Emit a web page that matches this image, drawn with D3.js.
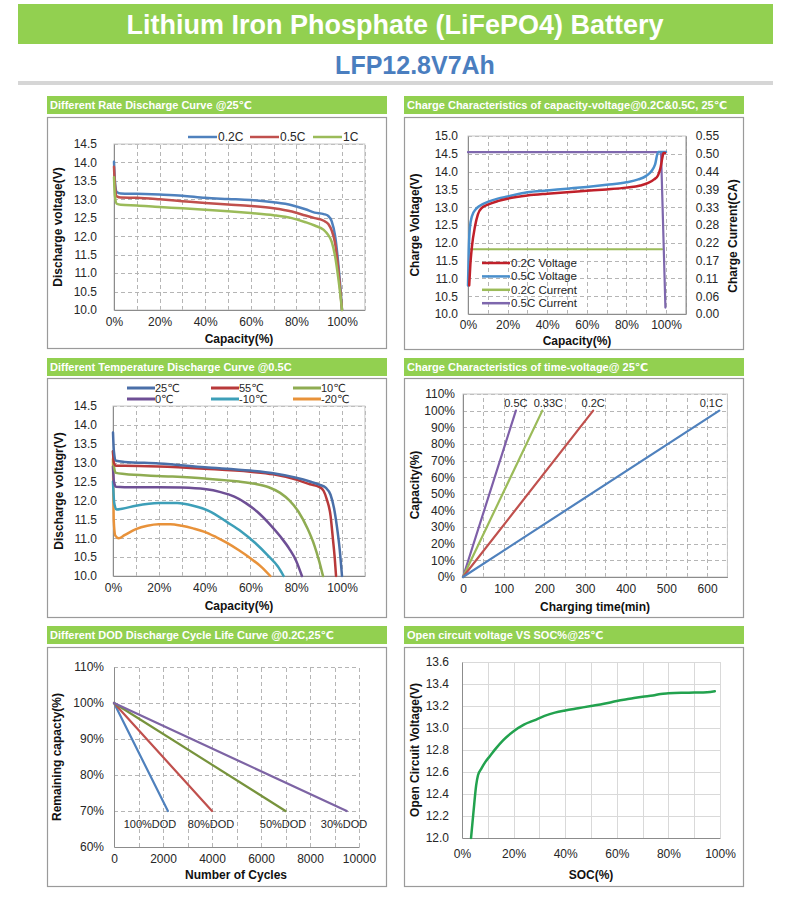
<!DOCTYPE html>
<html lang="en">
<head>
<meta charset="UTF-8" />
<title>LFP12.8V7Ah</title>
<script src="https://cdn.jsdelivr.net/npm/d3@7"></script>
<style>
  body { margin: 0; background: #fff; }
  text { font-family: "Liberation Sans", Arial, "DejaVu Sans", sans-serif; }
</style>
</head>
<body>
<div id="chart"></div>
<script>
// ---------- data ----------
// panel 1: rate discharge, [capacity %, volts]
const rate02C = [[0,14.02],[0.4,13.5],[1.2,13.2],[3,13.16],[10,13.15],[20,13.13],[30,13.1],[40,13.04],[50,13.01],[60,12.98],[70,12.92],[78,12.84],[84,12.73],[88,12.64],[92,12.6],[94,12.55],[95.5,12.4],[97,12.0],[98.3,11.3],[99.3,10.6],[100,10.0]];
const rate05C = [[0,13.88],[0.4,13.4],[1.2,13.08],[3,13.05],[10,13.04],[20,13.0],[30,12.95],[40,12.9],[50,12.86],[60,12.82],[70,12.76],[78,12.67],[84,12.56],[88,12.49],[92,12.42],[94,12.33],[95.5,12.15],[97,11.8],[98.3,11.15],[99.3,10.5],[100,10.0]];
const rate1C = [[0,13.6],[0.4,13.1],[1.2,12.88],[3,12.85],[10,12.83],[20,12.79],[30,12.76],[40,12.72],[50,12.68],[60,12.63],[70,12.57],[78,12.49],[84,12.38],[88,12.29],[92,12.17],[94,12.03],[95.5,11.85],[97,11.45],[98.3,10.9],[99.3,10.4],[100,10.0]];
const rateNames = ["0.2C", "0.5C", "1C"];

// panel 2: charge voltage [capacity %, volts] and current [capacity %, CA]
const chgV02C = [[0.6,10.8],[1.2,11.4],[2,11.9],[3.5,12.45],[5,12.8],[7,12.98],[10,13.07],[15,13.17],[20,13.24],[30,13.33],[40,13.38],[50,13.42],[60,13.46],[70,13.5],[80,13.55],[87,13.61],[91,13.68],[94,13.78],[96,13.9],[97.2,14.1],[98.2,14.4],[98.7,14.52],[99.5,14.52]];
const chgV05C = [[0,10.8],[0.4,11.8],[0.9,12.4],[2,12.75],[4,12.95],[6,13.04],[10,13.15],[15,13.24],[20,13.3],[30,13.42],[40,13.47],[50,13.52],[60,13.57],[70,13.63],[80,13.7],[86,13.78],[90,13.88],[92.5,14.0],[94.5,14.2],[96,14.55],[100,14.55]];
const chgI02C = [[1,0.2],[98,0.2]];
const chgI05C = [[0,0.5],[97.5,0.5],[99.7,0.02]];
const chgNames = ["0.2C Voltage", "0.5C Voltage", "0.2C Current", "0.5C Current"];
const currentTicks = [0, 0.055, 0.11, 0.165, 0.22, 0.275, 0.33, 0.385, 0.44, 0.495, 0.55];

// panel 3: temperature discharge [capacity %, volts]
const temp25 = [[0,13.8],[0.4,13.3],[1.3,13.05],[5,13.02],[20,12.98],[40,12.88],[60,12.79],[70,12.72],[80,12.6],[86,12.5],[90,12.42],[93,12.33],[95,12.15],[96.5,11.8],[97.8,11.3],[99,10.7],[100,10.0]];
const temp55 = [[0,13.3],[0.4,13.0],[1.3,12.92],[5,12.92],[20,12.9],[40,12.84],[60,12.76],[70,12.69],[80,12.55],[86,12.43],[90,12.36],[92,12.25],[93.5,12.0],[95,11.6],[96,11.0],[96.8,10.5],[97.4,10.0]];
const temp10 = [[0,13.3],[0.4,12.9],[1.3,12.73],[5,12.7],[20,12.65],[40,12.58],[55,12.5],[62,12.44],[68,12.35],[73,12.2],[77,12.0],[81,11.7],[85,11.25],[88,10.8],[90,10.4],[91.7,10.0]];
const temp0 = [[0,12.9],[0.4,12.5],[1.3,12.36],[5,12.35],[20,12.35],[30,12.34],[40,12.3],[47,12.22],[53,12.1],[58,11.93],[63,11.7],[68,11.4],[73,11.05],[77,10.72],[80,10.4],[82.5,10.0]];
const tempM10 = [[0,12.5],[0.5,11.95],[1.5,11.76],[4,11.78],[10,11.86],[20,11.93],[28,11.93],[35,11.86],[42,11.72],[50,11.42],[56,11.18],[62,10.88],[68,10.52],[72,10.25],[74.5,10.0]];
const tempM20 = [[0,13.1],[0.3,11.5],[1,11.07],[2.5,11.0],[5,11.08],[10,11.24],[15,11.33],[20,11.37],[25,11.37],[30,11.33],[35,11.26],[40,11.17],[45,11.03],[50,10.87],[55,10.68],[60,10.47],[65,10.23],[68.7,10.0]];
const tempNames = ["25\u2103", "55\u2103", "10\u2103", "0\u2103", "-10\u2103", "-20\u2103"];

// panel 4: charging time to 100% (min)
const timeRates = ["0.5C", "0.33C", "0.2C", "0.1C"];
const timeFull = [130, 195, 320, 630];

// panel 5: cycles until 70% remaining
const dodNames = ["100%DOD", "80%DOD", "50%DOD", "30%DOD"];
const dodCycles = [2200, 4000, 7000, 9500];

// panel 6: OCV vs SOC [soc fraction, volts]
const ocv = [[0.035,12.0],[0.045,12.25],[0.055,12.48],[0.062,12.57],[0.075,12.63],[0.09,12.69],[0.11,12.75],[0.13,12.81],[0.16,12.89],[0.2,12.97],[0.24,13.03],[0.28,13.07],[0.32,13.11],[0.36,13.14],[0.4,13.16],[0.45,13.18],[0.5,13.2],[0.55,13.22],[0.6,13.245],[0.65,13.265],[0.7,13.285],[0.74,13.295],[0.77,13.31],[0.8,13.315],[0.85,13.32],[0.9,13.322],[0.95,13.325],[0.98,13.335]];

// ---------- drawing ----------
const W = 791, H = 903;
const green = "#92d050";
const svg = d3.select("#chart").append("svg").attr("width", W).attr("height", H);

// header
svg.append("rect").attr("x", 18).attr("y", 4).attr("width", 755).attr("height", 40).attr("fill", green);
svg.append("text").attr("x", 395).attr("y", 34).attr("text-anchor", "middle")
  .style("font-size", "27px").style("font-weight", "bold").attr("fill", "#fff")
  .text("Lithium Iron Phosphate (LiFePO4) Battery");
svg.append("text").attr("x", 415).attr("y", 74).attr("text-anchor", "middle")
  .style("font-size", "25px").style("font-weight", "bold").attr("fill", "#4a7ebf")
  .text("LFP12.8V7Ah");
svg.append("rect").attr("x", 18).attr("y", 81).attr("width", 755).attr("height", 4).attr("fill", "#d6d6d6");

function frame(x, titleY, boxY, boxB, title) {
  svg.append("rect").attr("x", x).attr("y", titleY).attr("width", 340).attr("height", 18).attr("fill", green);
  svg.append("text").attr("x", x + 3).attr("y", titleY + 13).attr("fill", "#fff")
    .style("font-size", "11px").style("font-weight", "bold").text(title);
  svg.append("rect").attr("x", x + 0.5).attr("y", boxY + 0.5).attr("width", 339).attr("height", boxB - boxY)
    .attr("fill", "#fff").attr("stroke", "#9a9a9a").attr("stroke-width", 1.2);
}

function grid(x, y, xs, ys, dashed) {
  const g = svg.append("g").attr("stroke", dashed ? "#b5b5b5" : "#d9d9d9").attr("stroke-width", 1)
    .attr("stroke-dasharray", dashed ? "4,3" : null);
  const [y0, y1] = y.range(), [x0, x1] = x.range();
  g.selectAll(".v").data(xs).join("line")
    .attr("x1", d => Math.round(x(d)) + 0.5).attr("x2", d => Math.round(x(d)) + 0.5).attr("y1", y0).attr("y2", y1);
  g.selectAll(".h").data(ys).join("line")
    .attr("y1", d => Math.round(y(d)) + 0.5).attr("y2", d => Math.round(y(d)) + 0.5).attr("x1", x0).attr("x2", x1);
}

function styleAxis(g, size) {
  g.select(".domain").attr("stroke", "#8c8c8c");
  g.selectAll("text").style("font-size", (size || 12) + "px").attr("fill", "#262626")
    .style("font-family", '"Liberation Sans", Arial, sans-serif');
}

function yAxis(x0, y, vals, fmt, pad) {
  const g = svg.append("g").attr("transform", `translate(${x0},0)`)
    .call(d3.axisLeft(y).tickValues(vals).tickFormat(fmt).tickSize(0).tickPadding(pad));
  styleAxis(g);
  return g;
}

function xAxis(y0, x, vals, fmt, pad) {
  const g = svg.append("g").attr("transform", `translate(0,${y0})`)
    .call(d3.axisBottom(x).tickValues(vals).tickFormat(fmt).tickSize(0).tickPadding(pad));
  styleAxis(g);
  return g;
}

function axisTitle(x, y, txt, rot) {
  svg.append("text").attr("transform", `translate(${x},${y})` + (rot ? " rotate(-90)" : ""))
    .attr("text-anchor", "middle").style("font-size", "12px").style("font-weight", "bold")
    .attr("fill", "#111").text(txt);
}

function plotBorder(x, y) {
  const [x0, x1] = x.range(), [y0, y1] = y.range();
  svg.append("rect").attr("x", x0).attr("y", y1).attr("width", x1 - x0).attr("height", y0 - y1)
    .attr("fill", "none").attr("stroke", "#c8c8c8");
}

function series(x, y, data, color, width, curve) {
  const line = d3.line().x(d => x(d[0])).y(d => y(d[1])).curve(curve || d3.curveMonotoneX);
  svg.append("path").datum(data).attr("fill", "none").attr("stroke", color)
    .attr("stroke-width", width).attr("stroke-linejoin", "round").attr("stroke-linecap", "round")
    .attr("d", line);
}

const pct = d => d + "%";
const tens = d3.range(10, 111, 10);

// ---- panel 1 ----
frame(47, 96, 117, 348, "Different Rate Discharge Curve @25\u2103");
{
  const x = d3.scaleLinear().domain([0, 110]).range([114, 364.8]);
  const y = d3.scaleLinear().domain([10, 14.5]).range([310, 144]);
  const vt = d3.range(10, 14.51, 0.5);
  grid(x, y, tens, vt.slice(1), true);
  plotBorder(x, y);
  yAxis(114, y, vt, d3.format(".1f"), 17);
  xAxis(310, x, d3.range(0, 101, 20), pct, 7);
  const cols = ["#4f81bd", "#c0504d", "#9bbb59"];
  [rate02C, rate05C, rate1C].forEach((s, i) => series(x, y, s, cols[i], 2.5));
  axisTitle(62, 227, "Discharge voltage(V)", true);
  axisTitle(239, 343, "Capacity(%)");
  const lx = [188, 250, 313];
  rateNames.forEach((n, i) => {
    svg.append("line").attr("x1", lx[i]).attr("x2", lx[i] + 29).attr("y1", 137).attr("y2", 137)
      .attr("stroke", cols[i]).attr("stroke-width", 2.5);
    svg.append("text").attr("x", lx[i] + 30).attr("y", 141).style("font-size", "12px").attr("fill", "#262626").text(n);
  });
}

// ---- panel 2 ----
frame(404, 96, 117, 349, "Charge  Characteristics of capacity-voltage@0.2C&0.5C, 25\u2103");
{
  const x = d3.scaleLinear().domain([0, 110]).range([468, 685.8]);
  const y = d3.scaleLinear().domain([10, 15]).range([314, 136]);
  const yc = d3.scaleLinear().domain([0, 0.55]).range([314, 136]);
  const vt = d3.range(10, 15.01, 0.5);
  grid(x, y, tens, vt.slice(1), true);
  plotBorder(x, y);
  yAxis(468, y, vt, d3.format(".1f"), 10);
  const gr = svg.append("g").attr("transform", "translate(685.8,0)")
    .call(d3.axisRight(yc).tickValues(currentTicks).tickFormat(d => d3.format(".2f")(d + 1e-9)).tickSize(0).tickPadding(10));
  styleAxis(gr);
  xAxis(314, x, d3.range(0, 101, 20), pct, 6);
  const cols = ["#c0202a", "#4a8fcc", "#9bbb59", "#7e67ad"];
  series(x, yc, chgI02C, cols[2], 2.2, d3.curveLinear);
  series(x, yc, chgI05C, cols[3], 2.2, d3.curveLinear);
  series(x, y, chgV05C, cols[1], 2.5);
  series(x, y, chgV02C, cols[0], 2.5);
  axisTitle(419, 225, "Charge Voltage(V)", true);
  axisTitle(737, 236, "Charge Current(CA)", true);
  axisTitle(577, 345, "Capacity(%)");
  chgNames.forEach((n, i) => {
    const ly = 263 + i * 13.4;
    svg.append("line").attr("x1", 482).attr("x2", 510).attr("y1", ly).attr("y2", ly)
      .attr("stroke", cols[i]).attr("stroke-width", 2.5);
    svg.append("text").attr("x", 511).attr("y", ly + 4).style("font-size", "11.5px").attr("fill", "#262626").text(n);
  });
}

// ---- panel 3 ----
frame(47, 358, 378, 617, "Different Temperature Discharge Curve @0.5C");
{
  const x = d3.scaleLinear().domain([0, 110]).range([113, 364.9]);
  const y = d3.scaleLinear().domain([10, 14.5]).range([576, 406]);
  const vt = d3.range(10, 14.51, 0.5);
  grid(x, y, tens, vt.slice(1), true);
  plotBorder(x, y);
  yAxis(113, y, vt, d3.format(".1f"), 16);
  xAxis(576, x, d3.range(0, 101, 20), pct, 7);
  const cols = ["#4a6fa8", "#b8393a", "#8fac52", "#6e4f95", "#3d9fb8", "#e8923a"];
  const data = [temp25, temp55, temp10, temp0, tempM10, tempM20];
  [5, 4, 3, 2, 1, 0].forEach(i => series(x, y, data[i], cols[i], 2.5));
  axisTitle(63, 491, "Discharge voltagr(V)", true);
  axisTitle(239, 610, "Capacity(%)");
  const lx = [127, 211, 293];
  tempNames.forEach((n, i) => {
    const cx = lx[i % 3], cy = i < 3 ? 388 : 399;
    svg.append("line").attr("x1", cx).attr("x2", cx + 28).attr("y1", cy).attr("y2", cy)
      .attr("stroke", cols[i]).attr("stroke-width", 3);
    svg.append("text").attr("x", cx + 28).attr("y", cy + 4).style("font-size", "11px").attr("fill", "#262626").text(n);
  });
}

// ---- panel 4 ----
frame(404, 358, 378, 617, "Charge  Characteristics of time-voltage@ 25\u2103");
{
  const x = d3.scaleLinear().domain([0, 650]).range([463, 727.4]);
  const y = d3.scaleLinear().domain([0, 110]).range([577, 394]);
  grid(x, y, d3.range(50, 651, 50), tens, true);
  plotBorder(x, y);
  yAxis(463, y, d3.range(0, 111, 10), pct, 8);
  xAxis(577, x, d3.range(0, 601, 100), d => d, 7);
  const cols = ["#7e5fa8", "#9bbb59", "#c0504d", "#4f81bd"];
  const ldx = [0, 6, 0, -8];
  timeRates.forEach((n, i) => {
    series(x, y, [[0, 0], [timeFull[i], 100]], cols[i], 2.2, d3.curveLinear);
    svg.append("text").attr("x", x(timeFull[i]) + ldx[i]).attr("y", y(100) - 4).attr("text-anchor", "middle")
      .style("font-size", "11px").attr("fill", "#262626").text(n);
  });
  axisTitle(419, 485, "Capacity(%)", true);
  axisTitle(595, 611, "Charging time(min)");
}

// ---- panel 5 ----
frame(47, 626, 647, 886, "Different DOD Discharge Cycle Life Curve @0.2C,25\u2103");
{
  const x = d3.scaleLinear().domain([0, 10000]).range([114, 359]);
  const y = d3.scaleLinear().domain([60, 110]).range([847, 667]);
  grid(x, y, d3.range(1000, 10001, 1000), d3.range(70, 111, 10), true);
  yAxis(114, y, d3.range(60, 111, 10), pct, 10);
  xAxis(847, x, d3.range(0, 10001, 2000), d => d, 7);
  const cols = ["#4f81bd", "#c0504d", "#77933c", "#7d64a4"];
  const ldx = [-730, -40, -100, -110];
  dodNames.forEach((n, i) => {
    series(x, y, [[0, 100], [dodCycles[i], 70]], cols[i], 2.2, d3.curveLinear);
    svg.append("text").attr("x", x(dodCycles[i] + ldx[i])).attr("y", y(70) + 17).attr("text-anchor", "middle")
      .style("font-size", "11px").attr("fill", "#262626").text(n);
  });
  axisTitle(61, 757, "Remaining capacty(%)", true);
  axisTitle(236, 879, "Number of Cycles");
}

// ---- panel 6 ----
frame(404, 626, 647, 886, "Open circuit voltage VS SOC%@25\u2103");
{
  const x = d3.scaleLinear().domain([0, 1]).range([462, 720]);
  const y = d3.scaleLinear().domain([12, 13.6]).range([838, 662]);
  grid(x, y, d3.range(0.1, 1.01, 0.1), d3.range(12.2, 13.61, 0.2), false);
  yAxis(462, y, d3.range(12, 13.61, 0.2), d3.format(".1f"), 13);
  xAxis(838, x, d3.range(0, 1.01, 0.2), d3.format(".0%"), 11);
  series(x, y, ocv, "#22a24e", 2.5);
  axisTitle(419, 750, "Open Circuit  Voltage(V)", true);
  axisTitle(591, 879, "SOC(%)");
}
</script>
</body>
</html>
